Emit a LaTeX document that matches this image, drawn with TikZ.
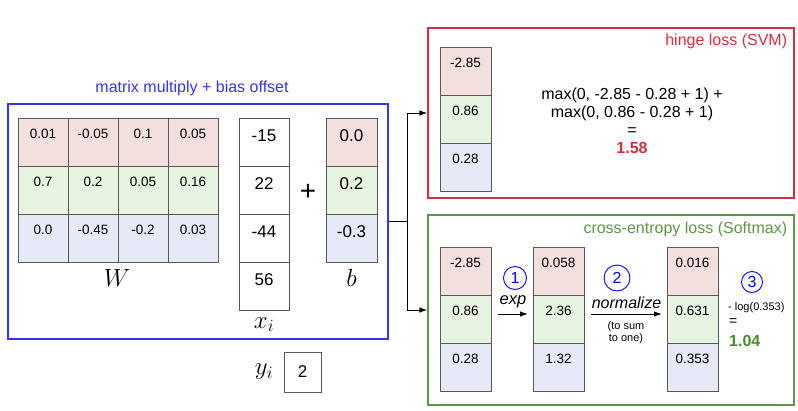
\documentclass[tikz,border=0pt]{standalone}
\usepackage{fontspec}
\setmainfont{Liberation Sans}
\usetikzlibrary{arrows.meta, positioning, calc}

\definecolor{rowr}{HTML}{F4DFDF}
\definecolor{rowg}{HTML}{E7F4E2}
\definecolor{rowb}{HTML}{E6EAF7}
\definecolor{mmblue}{HTML}{3535EE}
\definecolor{hingered}{HTML}{D42F3A}
\definecolor{cegreen}{HTML}{5B9646}
\definecolor{valgreen}{HTML}{4A8A2E}

\begin{document}
\begin{tikzpicture}[x=1pt, y=-1pt,
  cell/.style={draw=black!65, line width=0.6pt, minimum width=50pt, minimum height=48pt,
    inner sep=0pt, outer sep=0pt, text height=8pt, text depth=15pt, font=\fontsize{13.5}{15}\selectfont},
  bigcell/.style={cell, text height=10pt, text depth=12pt, font=\fontsize{17}{19}\selectfont},
  scorecell/.style={cell, minimum width=51pt, font=\fontsize{13.5}{15}\selectfont},
  mathlab/.style={font=\fontsize{25}{27}\selectfont},
  lossbox/.style={line width=1.3pt, minimum width=366pt, inner sep=0pt},
  scribble/.style={draw=blue, text=blue, circle, line width=0.9pt, minimum size=23pt, inner sep=0pt,
    font=\fontsize{16}{18}\selectfont},
  arr/.style={-{Latex[length=8pt, width=5.5pt]}, line width=1pt}
]
\useasboundingbox (0,0) rectangle (798,410);

% matrix multiply + bias offset
\node[draw=mmblue, line width=1.3pt, minimum width=380pt, minimum height=235pt] (mm) at (198,221.5) {};
\node[above=4pt of mm, xshift=-6pt, text=mmblue, font=\fontsize{16}{18}\selectfont] (mmtitle) {matrix multiply + bias offset};

\foreach \r/\fc/\vals in {1/rowr/{0.01,-0.05,0.1,0.05}, 2/rowg/{0.7,0.2,0.05,0.16}, 3/rowb/{0.0,-0.45,-0.2,0.03}}
  \foreach \v [count=\c] in \vals
    \node[cell, fill=\fc] (w\r\c) at (-7+50*\c, 94+48*\r) {\v};
\node[mathlab] (wlab) at (117,278) {$W$};

\node[bigcell] (x1) at (264,142) {-15};
\node[bigcell, below=0pt of x1] (x2) {22};
\node[bigcell, below=0pt of x2] (x3) {-44};
\node[bigcell, below=0pt of x3] (x4) {56};
\node[mathlab, below=4pt of x4] (xlab) {$x_i$};

\node[font=\fontsize{28}{30}\selectfont] (plus) at (308,192) {+};

\node[bigcell, minimum width=51pt, fill=rowr] (b1) at (351.5,142) {0.0};
\node[bigcell, minimum width=51pt, fill=rowg, below=0pt of b1] (b2) {0.2};
\node[bigcell, minimum width=51pt, fill=rowb, below=0pt of b2] (b3) {-0.3};
\node[mathlab] (blab) at (351.5,278) {$b$};

\node[mathlab] (ylab) at (264,372) {$y_i$};
\node[draw=black!65, line width=0.6pt, minimum width=37pt, minimum height=40pt,
  font=\fontsize{17}{19}\selectfont] (ybox) at (302.5,372) {2};

% hinge loss
\node[draw=hingered, lossbox, minimum height=170pt] (hinge) at (611,113) {};
\node[anchor=north east, text=hingered, font=\fontsize{16}{18}\selectfont] (hingetitle)
  at ([shift={(-4,3)}]hinge.north east) {hinge loss (SVM)};
\node[scorecell, fill=rowr] (h1) at (465.5,71) {-2.85};
\node[scorecell, fill=rowg, below=0pt of h1] (h2) {0.86};
\node[scorecell, fill=rowb, below=0pt of h2] (h3) {0.28};
\node[align=center, font=\fontsize{16}{18}\selectfont] (hingeexpr) at (632,121)
  {max(0, -2.85 - 0.28 + 1) +\\ max(0, 0.86 - 0.28 + 1)\\ =\\
   \textcolor{hingered}{\fontsize{16}{18}\selectfont\bfseries 1.58}};

% cross-entropy loss
\node[draw=cegreen, lossbox, minimum height=190pt] (ce) at (611,310) {};
\node[anchor=north east, text=cegreen, font=\fontsize{16}{18}\selectfont] (cetitle)
  at ([shift={(-4,4)}]ce.north east) {cross-entropy loss (Softmax)};
\node[scorecell, fill=rowr] (s1) at (465.5,271) {-2.85};
\node[scorecell, fill=rowg, below=0pt of s1] (s2) {0.86};
\node[scorecell, fill=rowb, below=0pt of s2] (s3) {0.28};
\node[scorecell, fill=rowr] (e1) at (558.5,271) {0.058};
\node[scorecell, fill=rowg, below=0pt of e1] (e2) {2.36};
\node[scorecell, fill=rowb, below=0pt of e2] (e3) {1.32};
\node[scorecell, fill=rowr] (n1) at (692.5,271) {0.016};
\node[scorecell, fill=rowg, below=0pt of n1] (n2) {0.631};
\node[scorecell, fill=rowb, below=0pt of n2] (n3) {0.353};

\draw[arr] ([shift={(7,-5)}]s2.east) -- node[above, yshift=2pt, font=\fontsize{16.5}{18}\selectfont\itshape] (explab) {exp}
  ([shift={(-5,-5)}]e2.west);
\draw[arr] ([shift={(7,-5)}]e2.east) -- node[above, yshift=2pt, font=\fontsize{16}{18}\selectfont\itshape] (normlab) {normalize}
  ([shift={(-5,-5)}]n2.west);
\node[align=center, font=\fontsize{11}{12}\selectfont] (sumlab) at (626,333) {(to sum\\ to one)};

\node[anchor=west, font=\fontsize{11}{13}\selectfont, inner sep=0pt] (logp) at (728,308) {- log(0.353)};
\node[anchor=west, font=\fontsize{14}{16}\selectfont, inner sep=0pt] (logeq) at (729,322) {=};
\node[anchor=west, text=valgreen, font=\fontsize{16}{18}\selectfont\bfseries, inner sep=0pt] (ceval) at (729,341) {1.04};

\node[scribble] (one) at (515,278) {1};
\node[scribble, minimum size=26pt] (two) at (617,278) {2};
\node[scribble, minimum size=21pt] (three) at (752,282) {3};

% scores to both losses
\coordinate (split) at (407,221.5);
\draw[line width=1pt] (mm.east) -- (split);
\draw[arr] (split) |- (hinge.west);
\draw[arr] (split) |- (ce.west);
\end{tikzpicture}
\end{document}
